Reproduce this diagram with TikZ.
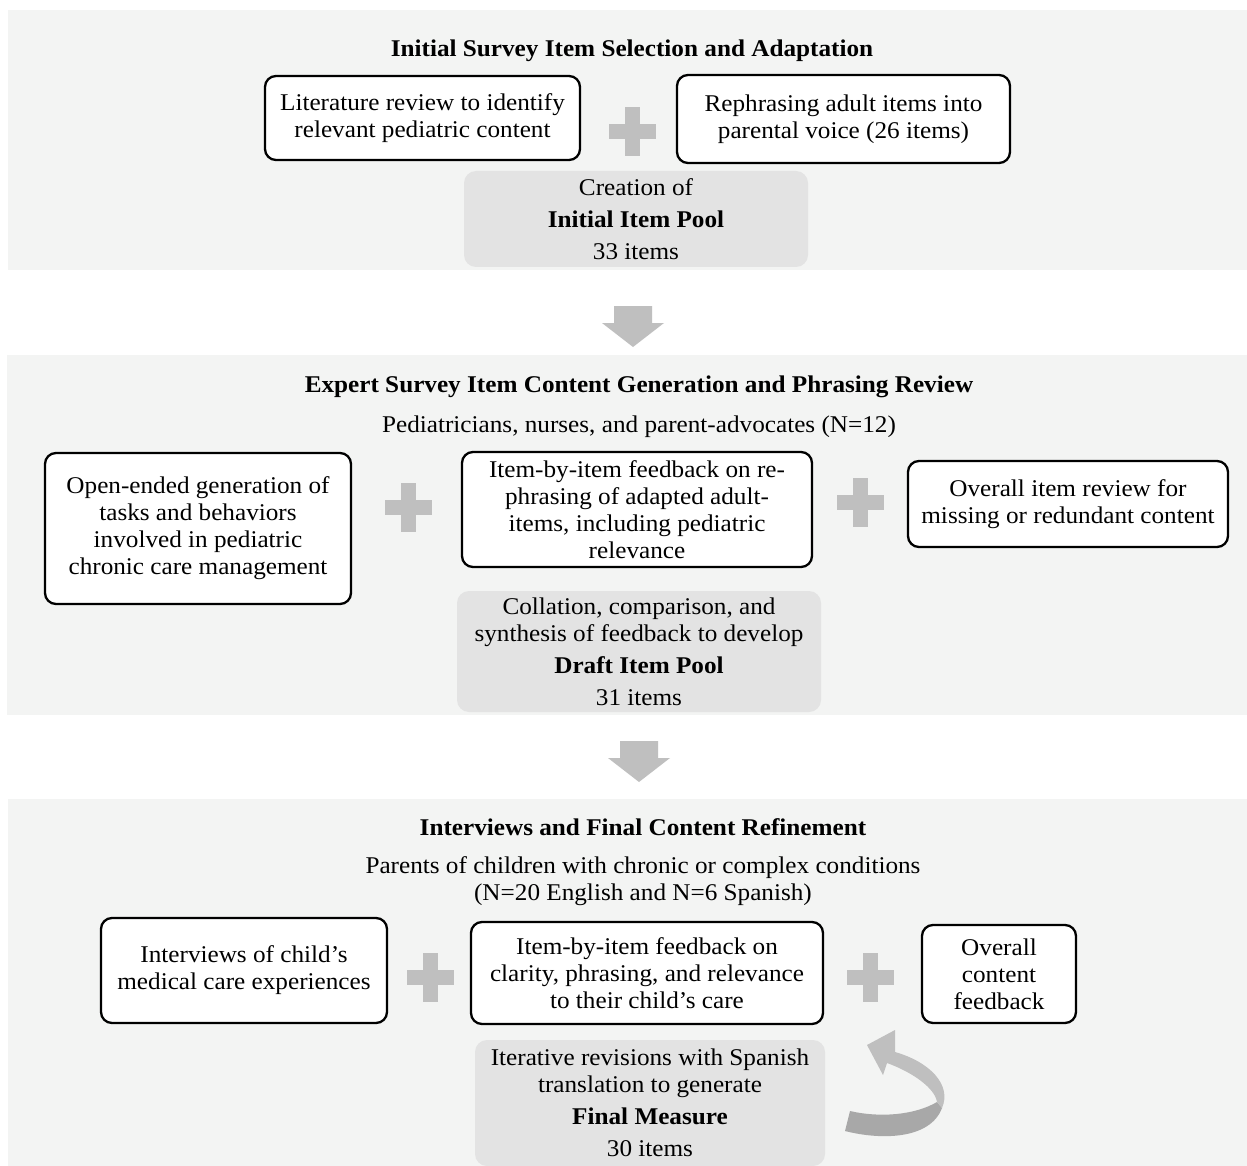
\documentclass[tikz,border=0pt]{standalone}
\usepackage{fontspec}
\setmainfont{Liberation Serif}[FakeStretch=1.05]
\definecolor{panelbg}{RGB}{243,244,243}
\definecolor{graybg}{RGB}{227,227,227}
\definecolor{shapegray}{RGB}{191,191,191}
\definecolor{darkribbon}{RGB}{168,168,168}
\tikzset{
  panel/.style={fill=panelbg, draw=none},
  whitebox/.style={draw=black, fill=white, line width=2.3pt, rounded corners=11pt,
    inner sep=0pt, align=center, font=\fontsize{24}{27}\selectfont},
  graybox/.style={draw=none, fill=graybg, rounded corners=12pt,
    inner sep=0pt, align=center, font=\fontsize{24}{27}\selectfont},
  paneltitle/.style={inner sep=0pt, align=center, font=\bfseries\fontsize{24}{27}\selectfont},
  plaintext/.style={inner sep=0pt, align=center, font=\fontsize{24}{27}\selectfont},
  plussign/.pic={
    \fill[shapegray] (-23.5,-7.5) rectangle (23.5,7.5);
    \fill[shapegray] (-7.5,-24.5) rectangle (7.5,24.5);
  },
  downarrow/.pic={
    \fill[shapegray] (-19,0) -- (19,0) -- (19,17) -- (31,17) -- (0,41) -- (-31,17) -- (-19,17) -- cycle;
  }
}
\begin{document}
\begin{tikzpicture}[x=1pt,y=-1pt]
\useasboundingbox (0,0) rectangle (1247,1166);
\fill[white] (0,0) rectangle (1247,1166);

% ---------- Panel 1 ----------
\fill[panel] (8,10) rectangle (1247,270);
\node[paneltitle] (t1) at (632,51) {Initial Survey Item Selection and Adaptation};
\node[whitebox, minimum width=315pt, minimum height=84pt] (a) at (422.5,118)
  {Literature review to identify\\relevant pediatric content};
\node[whitebox, minimum width=333pt, minimum height=88pt] (b) at (843.5,119)
  {Rephrasing adult items into\\parental voice (26 items)};
\node (p1) at (632.5,131.5) {};
\pic at (p1) {plussign};
\node[graybox, minimum width=344pt, minimum height=96pt] (g1) at (636,219)
  {Creation of\\[5pt]\textbf{Initial Item Pool}\\[5pt]33 items};

\node (d1) at (633,306) {};
\pic at (d1) {downarrow};

% ---------- Panel 2 ----------
\fill[panel] (7,355) rectangle (1247,715);
\node[paneltitle] (t2) at (639,387) {Expert Survey Item Content Generation and Phrasing Review};
\node[plaintext] (s2) at (639,427) {Pediatricians, nurses, and parent-advocates (N=12)};
\node[whitebox, minimum width=306pt, minimum height=151pt] (c) at (198,528.5)
  {Open-ended generation of\\tasks and behaviors\\involved in pediatric\\chronic care management};
\node (p2) at (408,507) {};
\pic at (p2) {plussign};
\node[whitebox, minimum width=350pt, minimum height=115pt] (d) at (637,509.5)
  {Item-by-item feedback on re-\\phrasing of adapted adult-\\items, including pediatric\\relevance};
\node (p3) at (860,502) {};
\pic at (p3) {plussign};
\node[whitebox, minimum width=320pt, minimum height=86pt] (e) at (1068,504)
  {Overall item review for\\missing or redundant content};
\node[graybox, minimum width=364pt, minimum height=121pt] (g2) at (639,651.5)
  {Collation, comparison, and\\synthesis of feedback to develop\\[5pt]\textbf{Draft Item Pool}\\[5pt]31 items};

\node (d2) at (639,741) {};
\pic at (d2) {downarrow};

% ---------- Panel 3 ----------
\fill[panel] (8,799) rectangle (1247,1166);
\node[paneltitle] (t3) at (643,827) {Interviews and Final Content Refinement};
\node[plaintext] (s3) at (643,881.5) {Parents of children with chronic or complex conditions\\(N=20 English and N=6 Spanish)};
\node[whitebox, minimum width=286pt, minimum height=105pt] (f) at (244,970.5)
  {Interviews of child's\\medical care experiences};
\node (p4) at (430,977) {};
\pic at (p4) {plussign};
\node[whitebox, minimum width=352pt, minimum height=102pt] (g) at (647,973)
  {Item-by-item feedback on\\clarity, phrasing, and relevance\\to their child's care};
\node (p5) at (870,977) {};
\pic at (p5) {plussign};
\node[whitebox, minimum width=154pt, minimum height=98pt] (h) at (999,974)
  {Overall\\content\\feedback};
\node[graybox, minimum width=350pt, minimum height=126pt] (g3) at (650,1103)
  {Iterative revisions with Spanish\\translation to generate\\[5pt]\textbf{Final Measure}\\[5pt]30 items};

% curved iteration arrow
\fill[darkribbon] (845,1131) .. controls (880,1140) and (930,1140) .. (942,1108)
  -- (937,1102) .. controls (915,1115) and (880,1118) .. (850,1111) -- cycle;
\fill[shapegray] (942,1108) .. controls (952,1085) and (930,1062) .. (895,1052)
  -- (895,1030) -- (867,1045) -- (883,1075) -- (887,1063)
  .. controls (912,1072) and (935,1088) .. (937,1102) -- cycle;
\end{tikzpicture}
\end{document}
